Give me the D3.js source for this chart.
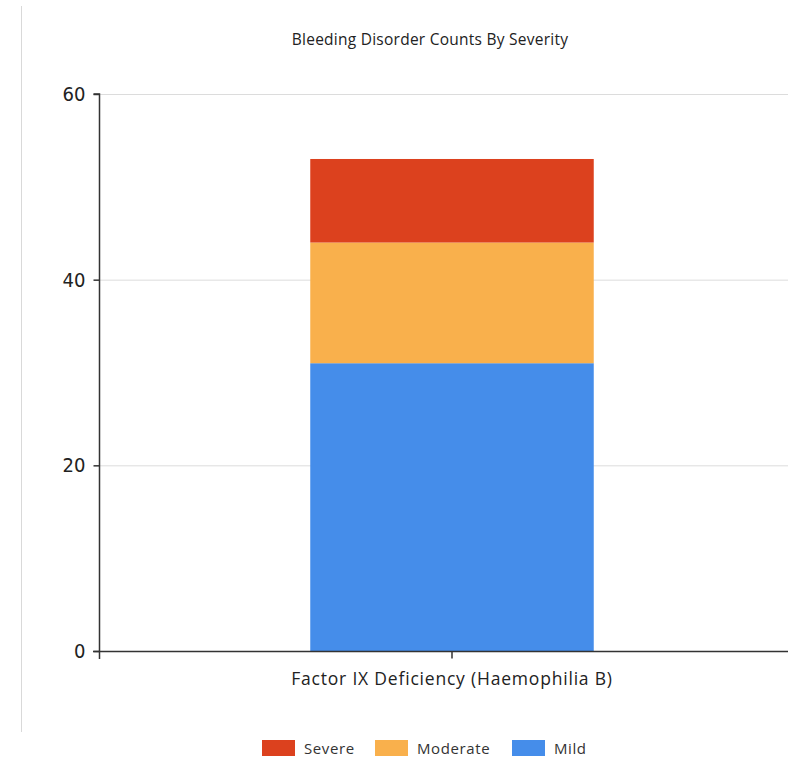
<!DOCTYPE html>
<html>
<head>
<meta charset="utf-8">
<script src="https://cdn.jsdelivr.net/npm/d3@7"></script>
<style>
  html, body { margin: 0; padding: 0; background: #fff; }
  svg { display: block; }
</style>
</head>
<body>
<svg id="chart" width="788" height="759"></svg>
<script>
// Chart data
const categories = ["Factor IX Deficiency (Haemophilia B)"];
const severities = ["Mild", "Moderate", "Severe"];
const mildCounts = [31];
const moderateCounts = [13];
const severeCounts = [9];
const yTicks = [0, 20, 40, 60];
const legendOrder = ["Severe", "Moderate", "Mild"];

const colors = { Severe: "#dc411e", Moderate: "#f9b04c", Mild: "#458dea" };

const rows = categories.map((c, i) => ({
  category: c,
  Mild: mildCounts[i],
  Moderate: moderateCounts[i],
  Severe: severeCounts[i]
}));

const svg = d3.select("#chart");
const margin = { left: 99, top: 94, bottom: 651, right: 805 };
const uiFont = "'Open Sans', 'DejaVu Sans', sans-serif";

// Thin frame line on the left edge of the panel
svg.append("line")
  .attr("x1", 21.5).attr("x2", 21.5)
  .attr("y1", 6).attr("y2", 732)
  .attr("stroke", "#d9d9d9").attr("stroke-width", 1);

// Title
svg.append("text")
  .attr("x", 430).attr("y", 45)
  .attr("text-anchor", "middle")
  .attr("font-family", uiFont)
  .attr("font-size", 15.5)
  .attr("letter-spacing", 0.25)
  .attr("fill", "#222")
  .text("Bleeding Disorder Counts By Severity");

const x = d3.scaleBand()
  .domain(categories)
  .range([margin.left, margin.right])
  .padding(0.427);

const y = d3.scaleLinear()
  .domain([0, 60])
  .range([margin.bottom, margin.top]);

// Gridlines
svg.append("g")
  .selectAll("line")
  .data(yTicks.filter(t => t > 0))
  .join("line")
  .attr("x1", margin.left).attr("x2", 788)
  .attr("y1", d => y(d) + 0.5).attr("y2", d => y(d) + 0.5)
  .attr("stroke", "#dcdcdc").attr("stroke-width", 1);

// Stacked bars
const stack = d3.stack().keys(severities)(rows);
svg.append("g")
  .selectAll("g")
  .data(stack)
  .join("g")
  .attr("fill", d => colors[d.key])
  .selectAll("rect")
  .data(d => d)
  .join("rect")
  .attr("x", d => x(d.data.category))
  .attr("width", x.bandwidth())
  .attr("y", d => y(d[1]))
  .attr("height", d => y(d[0]) - y(d[1]));

// Y axis
const yAxis = svg.append("g")
  .attr("transform", `translate(${margin.left + 0.5},0)`)
  .call(d3.axisLeft(y).tickValues(yTicks).tickSize(6).tickPadding(8).tickFormat(d3.format("d")));
yAxis.select(".domain").attr("stroke", "#333").attr("stroke-width", 1.5)
  .attr("d", `M-6,${margin.top}H0V${margin.bottom + 8}`);
yAxis.selectAll(".tick line").attr("stroke", "#333").attr("stroke-width", 1.5);
yAxis.selectAll(".tick text")
  .attr("font-family", "'Liberation Sans Narrow', 'DejaVu Sans Condensed', sans-serif")
  .attr("font-size", 20)
  .attr("fill", "#222");

// X axis
const xAxis = svg.append("g")
  .attr("transform", `translate(0,${margin.bottom + 0.5})`)
  .call(d3.axisBottom(x).tickSize(7).tickPadding(14));
xAxis.select(".domain").attr("stroke", "#333").attr("stroke-width", 1.5)
  .attr("d", `M${margin.left - 6},0H788`);
xAxis.selectAll(".tick line").attr("stroke", "#333").attr("stroke-width", 1.5);
xAxis.selectAll(".tick text")
  .attr("font-family", uiFont)
  .attr("font-size", 17.5)
  .attr("letter-spacing", 0.8)
  .attr("fill", "#222");

// Legend
const legendX = { Severe: 262, Moderate: 375, Mild: 512 };
const legend = svg.append("g")
  .selectAll("g")
  .data(legendOrder)
  .join("g")
  .attr("transform", d => `translate(${legendX[d]},740)`);
legend.append("rect")
  .attr("width", 33).attr("height", 16)
  .attr("fill", d => colors[d]);
legend.append("text")
  .attr("x", 42).attr("y", 14)
  .attr("font-family", uiFont)
  .attr("font-size", 15)
  .attr("letter-spacing", 0.6)
  .attr("fill", "#333")
  .text(d => d);
</script>
</body>
</html>
